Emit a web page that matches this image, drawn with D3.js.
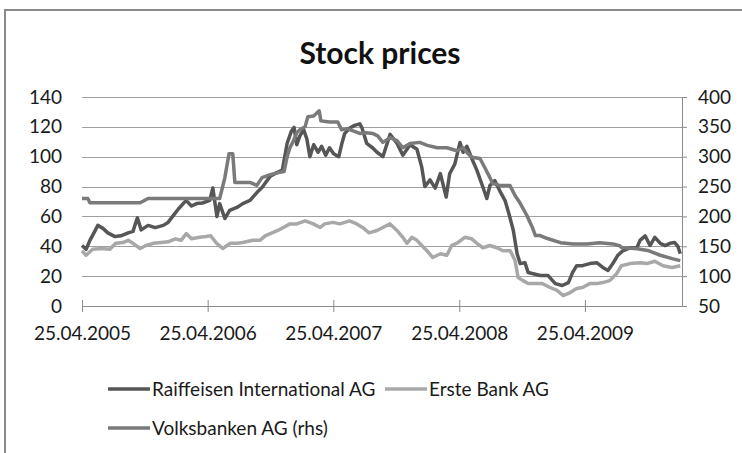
<!DOCTYPE html>
<html><head><meta charset="utf-8">
<script src="https://cdn.jsdelivr.net/npm/d3@7"></script>
<style>
html,body{margin:0;padding:0;background:#fff;}
svg{display:block;font-family:Lato,"Open Sans",sans-serif;}
</style></head>
<body>
<svg id="c" width="742" height="453"></svg>
<script>
const titleText = "Stock prices";
const seriesNames = ["Raiffeisen International AG", "Erste Bank AG", "Volksbanken AG (rhs)"];
const xTickDates = ["2005-04-25","2006-04-25","2007-04-25","2008-04-25","2009-04-25"];
const leftTicks = [0,20,40,60,80,100,120,140];
const rightTicks = [50,100,150,200,250,300,350,400];

const raiDates = ["2005-04-25","2005-05-07","2005-05-18","2005-06-01","2005-06-10","2005-06-25","2005-07-09","2005-07-30","2005-08-16","2005-09-06","2005-09-20","2005-09-30","2005-10-03","2005-10-14","2005-11-03","2005-11-24","2005-12-17","2005-12-31","2006-01-15","2006-01-30","2006-02-13","2006-02-22","2006-03-09","2006-03-24","2006-04-10","2006-05-01","2006-05-10","2006-05-22","2006-05-30","2006-06-14","2006-06-28","2006-07-19","2006-08-05","2006-08-26","2006-09-15","2006-09-30","2006-10-24","2006-11-09","2006-11-28","2006-12-12","2006-12-24","2007-01-01","2007-01-09","2007-01-18","2007-01-29","2007-02-07","2007-02-16","2007-02-27","2007-03-12","2007-03-22","2007-04-03","2007-04-14","2007-04-26","2007-05-11","2007-05-19","2007-05-28","2007-06-11","2007-06-26","2007-07-11","2007-07-17","2007-07-31","2007-08-17","2007-08-30","2007-09-16","2007-10-07","2007-10-27","2007-11-13","2007-12-04","2007-12-24","2008-01-07","2008-01-16","2008-01-31","2008-02-15","2008-03-01","2008-03-18","2008-03-28","2008-04-12","2008-04-27","2008-05-06","2008-05-17","2008-05-31","2008-06-15","2008-07-03","2008-07-14","2008-07-23","2008-08-06","2008-08-21","2008-09-05","2008-09-16","2008-09-29","2008-10-10","2008-10-19","2008-11-02","2008-11-11","2008-11-26","2008-12-16","2009-01-08","2009-01-29","2009-02-18","2009-03-08","2009-03-20","2009-04-01","2009-04-18","2009-05-09","2009-05-29","2009-06-16","2009-07-01","2009-07-15","2009-07-29","2009-08-13","2009-09-03","2009-09-23","2009-10-02","2009-10-17","2009-10-31","2009-11-14","2009-11-30","2009-12-14","2009-12-28","2010-01-11","2010-01-20","2010-01-27"];
const raiValues = [40.5,38,44,50,54,52,49,46.5,47,49,50,57,59,51,54,52.5,54,56,60.5,65,68.6,70.6,67,68.6,69,70.7,79,60,68.6,58.6,64,66,68.6,70.7,76,79.4,87,89,91,109,117,119.6,108,114,118,112,100,108,103,107,101,106,102,100,108,115.5,119,121,122,119.5,109,106,103,100,115,109,101,108,105,93,80,84.5,79,88.7,73,88.6,95,109.5,103,107,99,91,79.4,72,80.7,84,77,70.6,62,50.6,35,28.4,29,22.4,21.6,20.4,20.4,15,13.7,15.7,22.4,27,27,28.4,29,25.8,23.8,28.4,33.8,37,39,39,44,47,40.5,46,42,40.5,42,42.5,40,35];

const ersteDates = ["2005-04-25","2005-05-07","2005-05-26","2005-06-22","2005-07-15","2005-08-01","2005-08-22","2005-09-06","2005-09-20","2005-10-11","2005-10-28","2005-11-18","2005-12-11","2005-12-31","2006-01-21","2006-02-07","2006-02-22","2006-03-09","2006-04-02","2006-04-20","2006-05-04","2006-05-19","2006-06-08","2006-06-29","2006-07-19","2006-08-05","2006-09-03","2006-09-24","2006-10-09","2006-10-29","2006-11-15","2006-12-01","2006-12-20","2007-01-09","2007-02-02","2007-02-26","2007-03-18","2007-03-31","2007-04-24","2007-05-14","2007-06-11","2007-07-02","2007-07-19","2007-08-07","2007-08-30","2007-09-16","2007-10-07","2007-10-27","2007-11-13","2007-11-25","2007-12-09","2007-12-24","2008-01-07","2008-01-22","2008-02-08","2008-03-01","2008-03-20","2008-04-03","2008-04-21","2008-05-11","2008-05-31","2008-06-15","2008-07-03","2008-07-23","2008-08-12","2008-08-30","2008-09-20","2008-10-04","2008-10-13","2008-10-27","2008-11-11","2008-12-02","2008-12-22","2009-01-14","2009-02-03","2009-02-21","2009-03-13","2009-04-01","2009-04-18","2009-05-09","2009-05-29","2009-06-16","2009-07-06","2009-07-26","2009-08-09","2009-09-03","2009-10-02","2009-10-22","2009-11-14","2009-12-08","2010-01-03","2010-01-27"];
const ersteValues = [37,34,38,38.5,38,42,42.5,44,42,38.5,40.5,42,42.5,43,45,44,48.5,45,46,46.5,47,42.5,38.5,42,42,42.5,44,44,47,49,50.6,52.6,55,55,57,55,52.6,55,56,55,57,55,52.6,49,50.6,52.6,55,50.6,46,42,46,44,40.5,37,32.5,35,34,40.5,42.5,46,45,42,39,40.5,39,37,37,30.5,19,17,15,15,15,12.4,10.4,7,9,11.7,12.4,15,15,15.7,17,21.6,27,28.4,29,28.4,30,27,25.8,27];

const vbDates = ["2005-04-25","2005-05-12","2005-05-18","2005-10-11","2005-11-03","2006-05-30","2006-06-14","2006-06-26","2006-07-07","2006-07-13","2006-08-26","2006-09-15","2006-09-30","2006-10-24","2006-11-13","2006-12-03","2006-12-12","2006-12-20","2006-12-29","2007-01-09","2007-01-18","2007-02-02","2007-02-10","2007-02-27","2007-03-15","2007-03-20","2007-04-14","2007-05-08","2007-05-19","2007-06-04","2007-07-11","2007-07-31","2007-08-17","2007-09-01","2007-09-16","2007-10-07","2007-10-27","2007-11-13","2007-12-04","2008-01-01","2008-01-23","2008-02-21","2008-03-20","2008-04-18","2008-05-06","2008-05-17","2008-05-31","2008-06-24","2008-07-08","2008-07-23","2008-07-31","2008-08-21","2008-09-19","2008-10-04","2008-10-19","2008-11-07","2008-11-23","2008-12-02","2008-12-16","2009-01-06","2009-02-13","2009-03-22","2009-05-01","2009-06-07","2009-07-15","2009-08-04","2009-08-09","2009-09-24","2009-10-24","2009-11-30","2010-01-06","2010-01-27"];
const vbValues = [230,230,223,223,230,230,265,305,305,257,257,252,265,270,273,275,300,315,325,340,345,350,367,368,377,360,358,358,345,347,339,340,339,335,324,332,327,315,322,324,319,315,315,310,315,307,299,297,282,265,255,252,252,235,222,202,182,168,168,163,156,154,154,156,154,151,148,146,143,135,129,126];

const colors = ["#565656", "#a8a8a8", "#7a7a7a"];

const parse = d3.timeParse("%Y-%m-%d");
const svg = d3.select("#c");

// chart border
svg.append("rect").attr("x",5).attr("y",10).attr("width",780).attr("height",480)
  .attr("fill","#fff").attr("stroke","#8a8a8a").attr("stroke-width",2);

const x = d3.scaleTime().domain([parse("2005-04-25"), parse("2010-02-01")]).range([82, 682]);
const yL = d3.scaleLinear().domain([0,140]).range([306, 97]);
const yR = d3.scaleLinear().domain([50,400]).range([306, 97]);

// title
svg.append("text").attr("x",380).attr("y",64).attr("text-anchor","middle")
  .attr("font-size",30).attr("font-weight","bold").attr("fill","#111").text(titleText);

// gridlines
svg.append("g").selectAll("line").data(leftTicks.filter(v=>v>0)).join("line")
  .attr("x1",82).attr("x2",682).attr("y1",d=>Math.round(yL(d))+0.5).attr("y2",d=>Math.round(yL(d))+0.5)
  .attr("stroke","#a0a0a0").attr("stroke-width",1);

// left axis (labels only)
const gL = svg.append("g").attr("transform","translate(82,0)")
  .call(d3.axisLeft(yL).tickValues(leftTicks).tickSize(0).tickPadding(20));
gL.select(".domain").remove();

// right axis
const gR = svg.append("g").attr("transform","translate(682,0)")
  .call(d3.axisRight(yR).tickValues(rightTicks).tickSizeInner(5).tickSizeOuter(0).tickPadding(11));
gR.select(".domain").attr("stroke","#8a8a8a");
gR.selectAll(".tick line").attr("stroke","#8a8a8a");

// bottom axis
const fmt = d3.timeFormat("%d.%m.%Y");
const gB = svg.append("g").attr("transform","translate(0,306)")
  .call(d3.axisBottom(x).tickValues(xTickDates.map(parse)).tickFormat(fmt).tickSizeInner(6).tickSizeOuter(0).tickPadding(15));
gB.select(".domain").attr("stroke","#8a8a8a");
gB.selectAll(".tick line").attr("y1",-6).attr("y2",6).attr("stroke","#8a8a8a");

[gL,gR,gB].forEach(g=>g.selectAll("text").attr("font-size",19).attr("fill","#1a1a1a").attr("font-family","Lato,'Open Sans',sans-serif"));

// series
const mk = (dates, vals) => dates.map((d,i)=>({date:parse(d), v:vals[i]}));
const raiData = mk(raiDates, raiValues);
const ersteData = mk(ersteDates, ersteValues);
const vbData = mk(vbDates, vbValues);

const lineL = d3.line().x(d=>x(d.date)).y(d=>yL(d.v));
const lineR = d3.line().x(d=>x(d.date)).y(d=>yR(d.v));

svg.append("path").datum(raiData).attr("d",lineL).attr("fill","none").attr("stroke",colors[0]).attr("stroke-width",3.5).attr("stroke-linejoin","round");
svg.append("path").datum(ersteData).attr("d",lineL).attr("fill","none").attr("stroke",colors[1]).attr("stroke-width",3.5).attr("stroke-linejoin","round");
svg.append("path").datum(vbData).attr("d",lineR).attr("fill","none").attr("stroke",colors[2]).attr("stroke-width",3.5).attr("stroke-linejoin","round");

// legend
const legendItems = [
  {name:seriesNames[0], color:colors[0], x:108, y:389},
  {name:seriesNames[1], color:colors[1], x:385, y:389},
  {name:seriesNames[2], color:colors[2], x:108, y:428}
];
const lg = svg.append("g").selectAll("g").data(legendItems).join("g");
lg.append("line").attr("x1",d=>d.x).attr("x2",d=>d.x+42).attr("y1",d=>d.y).attr("y2",d=>d.y)
  .attr("stroke",d=>d.color).attr("stroke-width",3.5);
lg.append("text").attr("x",d=>d.x+44).attr("y",d=>d.y).attr("dy","0.35em")
  .attr("font-size",19).attr("fill","#1a1a1a").text(d=>d.name);
</script>
</body></html>
